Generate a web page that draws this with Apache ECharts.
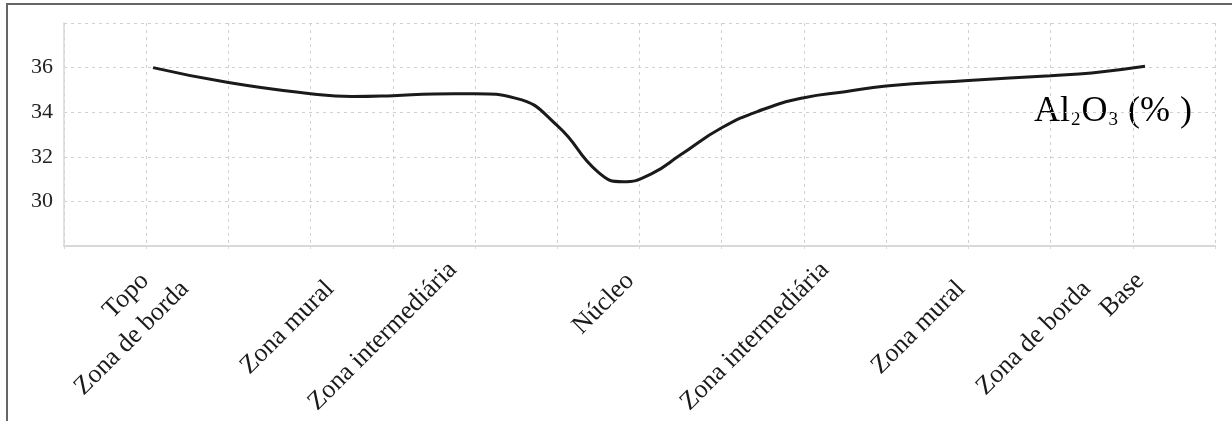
<!DOCTYPE html>
<html>
<head>
<meta charset="utf-8">
<script src="https://cdn.jsdelivr.net/npm/echarts@6/dist/echarts.min.js"></script>
<style>
  html, body { margin: 0; padding: 0; background: #fff; }
  #chart { width: 1232px; height: 421px; }
</style>
</head>
<body>
<div id="chart"></div>
<script>
// ---- data ----
// Profile position (distance along the pegmatite profile, axis units 0..14)
var profileX = [1.083, 2.0, 3.0, 3.5, 4.0, 4.5, 5.0, 5.5, 6.0, 6.5, 6.8, 7.15,
                7.5, 8.0, 8.5, 9.0, 9.5, 10.0, 11.0, 12.0, 12.5, 13.149];
// Al2O3 content (%)
var al2o3 = [36.0, 35.33, 34.83, 34.70, 34.74, 34.82, 34.83, 34.62, 33.4, 31.3, 30.88, 31.25,
             32.09, 33.3, 34.12, 34.65, 34.92, 35.17, 35.42, 35.64, 35.76, 36.06];
// Zone labels and their position along the profile
var categories = ['Topo', 'Zona de borda', 'Zona mural', 'Zona intermediária', 'Núcleo',
                  'Zona intermediária', 'Zona mural', 'Zona de borda', 'Base'];
var categoryX = [0.985, 1.47, 3.235, 4.73, 6.885, 9.256, 10.91, 12.44, 13.09];
var yTicks = [28, 30, 32, 34, 36, 38];

// ---- layout (not data) ----
var labelRow = [0, 1, 1, 2, 0, 2, 1, 1, 0];
var rowMargin = [31, 39, 20];
var serif = "'Liberation Serif', 'DejaVu Serif', serif";

function labelAxis(row) {
  var vals = [], names = [];
  categories.forEach(function (c, i) {
    if (labelRow[i] === row) { vals.push(categoryX[i]); names.push(c); }
  });
  return {
    type: 'value', gridIndex: 0, position: 'bottom', offset: 0,
    min: 0, max: 14,
    axisLine: { show: false }, axisTick: { show: false }, splitLine: { show: false },
    axisLabel: {
      customValues: vals,
      rotate: 45, margin: rowMargin[row],
      fontFamily: serif, fontSize: 26, color: '#1a1a1a',
      formatter: function (v) {
        var best = 0, d = 1e9;
        vals.forEach(function (x, k) { if (Math.abs(x - v) < d) { d = Math.abs(x - v); best = k; } });
        return names[best];
      }
    }
  };
}

var chart = echarts.init(document.getElementById('chart'), null, { renderer: 'canvas' });
var option = {
  animation: false,
  backgroundColor: '#fff',
  grid: { left: 64, right: 17, top: 23, bottom: 175, outerBoundsMode: 'none' },
  graphic: [
    { type: 'rect', silent: true, z: 100,
      shape: { x: 7, y: 4, width: 1400, height: 600 },
      style: { fill: 'none', stroke: '#666', lineWidth: 2 } },
    { type: 'text', silent: true, left: 1034, top: 94,
      style: {
        text: '{a|Al}{s|2}{a|O}{s|3}{a| (%}{b|)}',
        rich: {
          a: { fontFamily: serif, fontSize: 36, color: '#1a1a1a', lineHeight: 40, verticalAlign: 'bottom' },
          s: { fontFamily: serif, fontSize: 19, color: '#1a1a1a', lineHeight: 40, verticalAlign: 'bottom', padding: [0, 1, 0, 1] },
          b: { fontFamily: serif, fontSize: 36, color: '#1a1a1a', lineHeight: 40, verticalAlign: 'bottom', padding: [0, 0, 0, 10] }
        }
      } }
  ],
  xAxis: [
    {
      type: 'value', gridIndex: 0, position: 'bottom', min: 0, max: 14, interval: 1,
      axisLine: { show: true, lineStyle: { color: '#d9d9d9', width: 2 } },
      axisTick: { show: true, length: 3, lineStyle: { color: '#d9d9d9' } },
      axisLabel: { show: false },
      splitLine: { show: true, lineStyle: { color: '#d0d0d0', type: [3, 4], width: 1 } }
    },
    labelAxis(0),
    labelAxis(1),
    labelAxis(2)
  ],
  yAxis: {
    type: 'value', min: yTicks[0], max: yTicks[yTicks.length - 1], interval: 2,
    axisLine: { show: true, lineStyle: { color: '#d9d9d9', width: 1.5 } },
    axisTick: { show: false },
    axisLabel: { showMinLabel: false, showMaxLabel: false, margin: 11,
                 fontFamily: serif, fontSize: 22, color: '#222' },
    splitLine: { show: true, lineStyle: { color: '#d0d0d0', type: [3, 4], width: 1 } }
  },
  series: [{
    type: 'line', xAxisIndex: 0, yAxisIndex: 0,
    data: profileX.map(function (x, i) { return [x, al2o3[i]]; }),
    smooth: 0.5, showSymbol: false,
    lineStyle: { color: '#1a1a1a', width: 3 }
  }]
};
chart.setOption(option);
</script>
</body>
</html>
